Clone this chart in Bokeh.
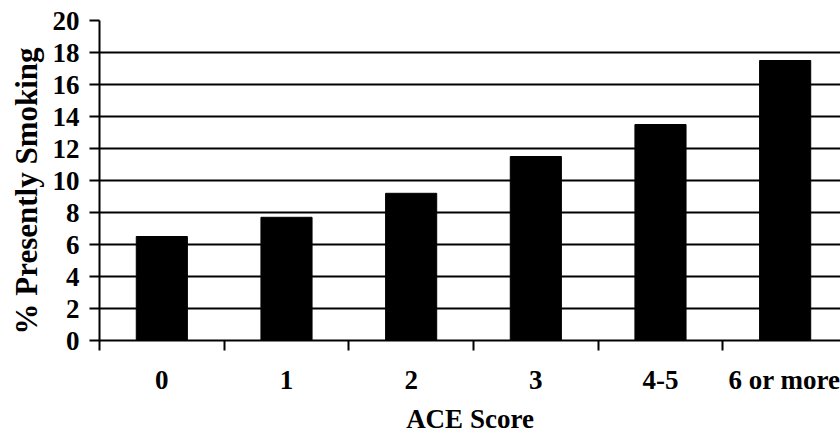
from bokeh.plotting import figure
from bokeh.models import FixedTicker, Range1d, ColumnDataSource, Title
from bokeh.embed import file_html
from bokeh.resources import INLINE

categories = ["0", "1", "2", "3", "4-5", "6 or more"]
values = [6.5, 7.7, 9.2, 11.5, 13.5, 17.5]
y_ticks = [0, 2, 4, 6, 8, 10, 12, 14, 16, 18, 20]
x_title = "ACE Score"
y_title = "% Presently Smoking"

positions = [i + 0.5 for i in range(len(categories))]
source = ColumnDataSource(dict(x=positions, top=values, cat=categories))

FONT = "Liberation Serif"

p = figure(width=840, height=436, output_backend="svg", toolbar_location=None,
           x_range=Range1d(0, 5.944), y_range=Range1d(0, 20),
           min_border_left=97, min_border_right=0, min_border_top=20, min_border_bottom=95)
p.outline_line_color = None
p.background_fill_color = "white"
p.border_fill_color = "white"

p.vbar(x="x", top="top", width=0.41, bottom=0, source=source,
       fill_color="black", line_color="black", line_width=1)

# x axis
p.xaxis.ticker = FixedTicker(ticks=positions, minor_ticks=list(range(len(categories) + 1)))
p.xaxis.major_label_overrides = {pos: c for pos, c in zip(positions, categories)}
p.xaxis.major_tick_line_color = None
p.xaxis.major_tick_out = 0
p.xaxis.major_tick_in = 0
p.xaxis.minor_tick_out = 10
p.xaxis.minor_tick_in = 0
p.xaxis.minor_tick_line_width = 2
p.xaxis.minor_tick_line_color = "black"
p.xaxis.axis_line_width = 2
p.xaxis.axis_line_color = "black"
p.xaxis.major_label_standoff = 14
p.xaxis.axis_label = x_title
p.xaxis.axis_label_standoff = 6

# y axis
p.yaxis.ticker = FixedTicker(ticks=y_ticks)
p.yaxis.minor_tick_line_color = None
p.yaxis.major_tick_out = 10
p.yaxis.major_tick_in = 0
p.yaxis.major_tick_line_width = 2
p.yaxis.major_tick_line_color = "black"
p.yaxis.axis_line_width = 2
p.yaxis.axis_line_color = "black"
p.yaxis.major_label_standoff = 10

for ax in (p.xaxis, p.yaxis):
    ax.major_label_text_font = FONT
    ax.major_label_text_font_style = "bold"
    ax.major_label_text_font_size = "27px"
    ax.major_label_text_color = "black"
p.xaxis.axis_label_text_font = FONT
p.xaxis.axis_label_text_font_style = "bold"
p.xaxis.axis_label_text_font_size = "27px"
p.xaxis.axis_label_text_color = "black"

# y axis title as a side title (allows shifting along the axis)
p.add_layout(Title(text=y_title, align="left", offset=6, standoff=12,
                   text_font=FONT, text_font_style="bold", text_font_size="31px",
                   text_color="black"), "left")

p.xgrid.grid_line_color = None
p.ygrid.ticker = FixedTicker(ticks=y_ticks)
p.ygrid.grid_line_color = "black"
p.ygrid.grid_line_width = 2

open("out.html", "w").write(file_html(p, INLINE))
